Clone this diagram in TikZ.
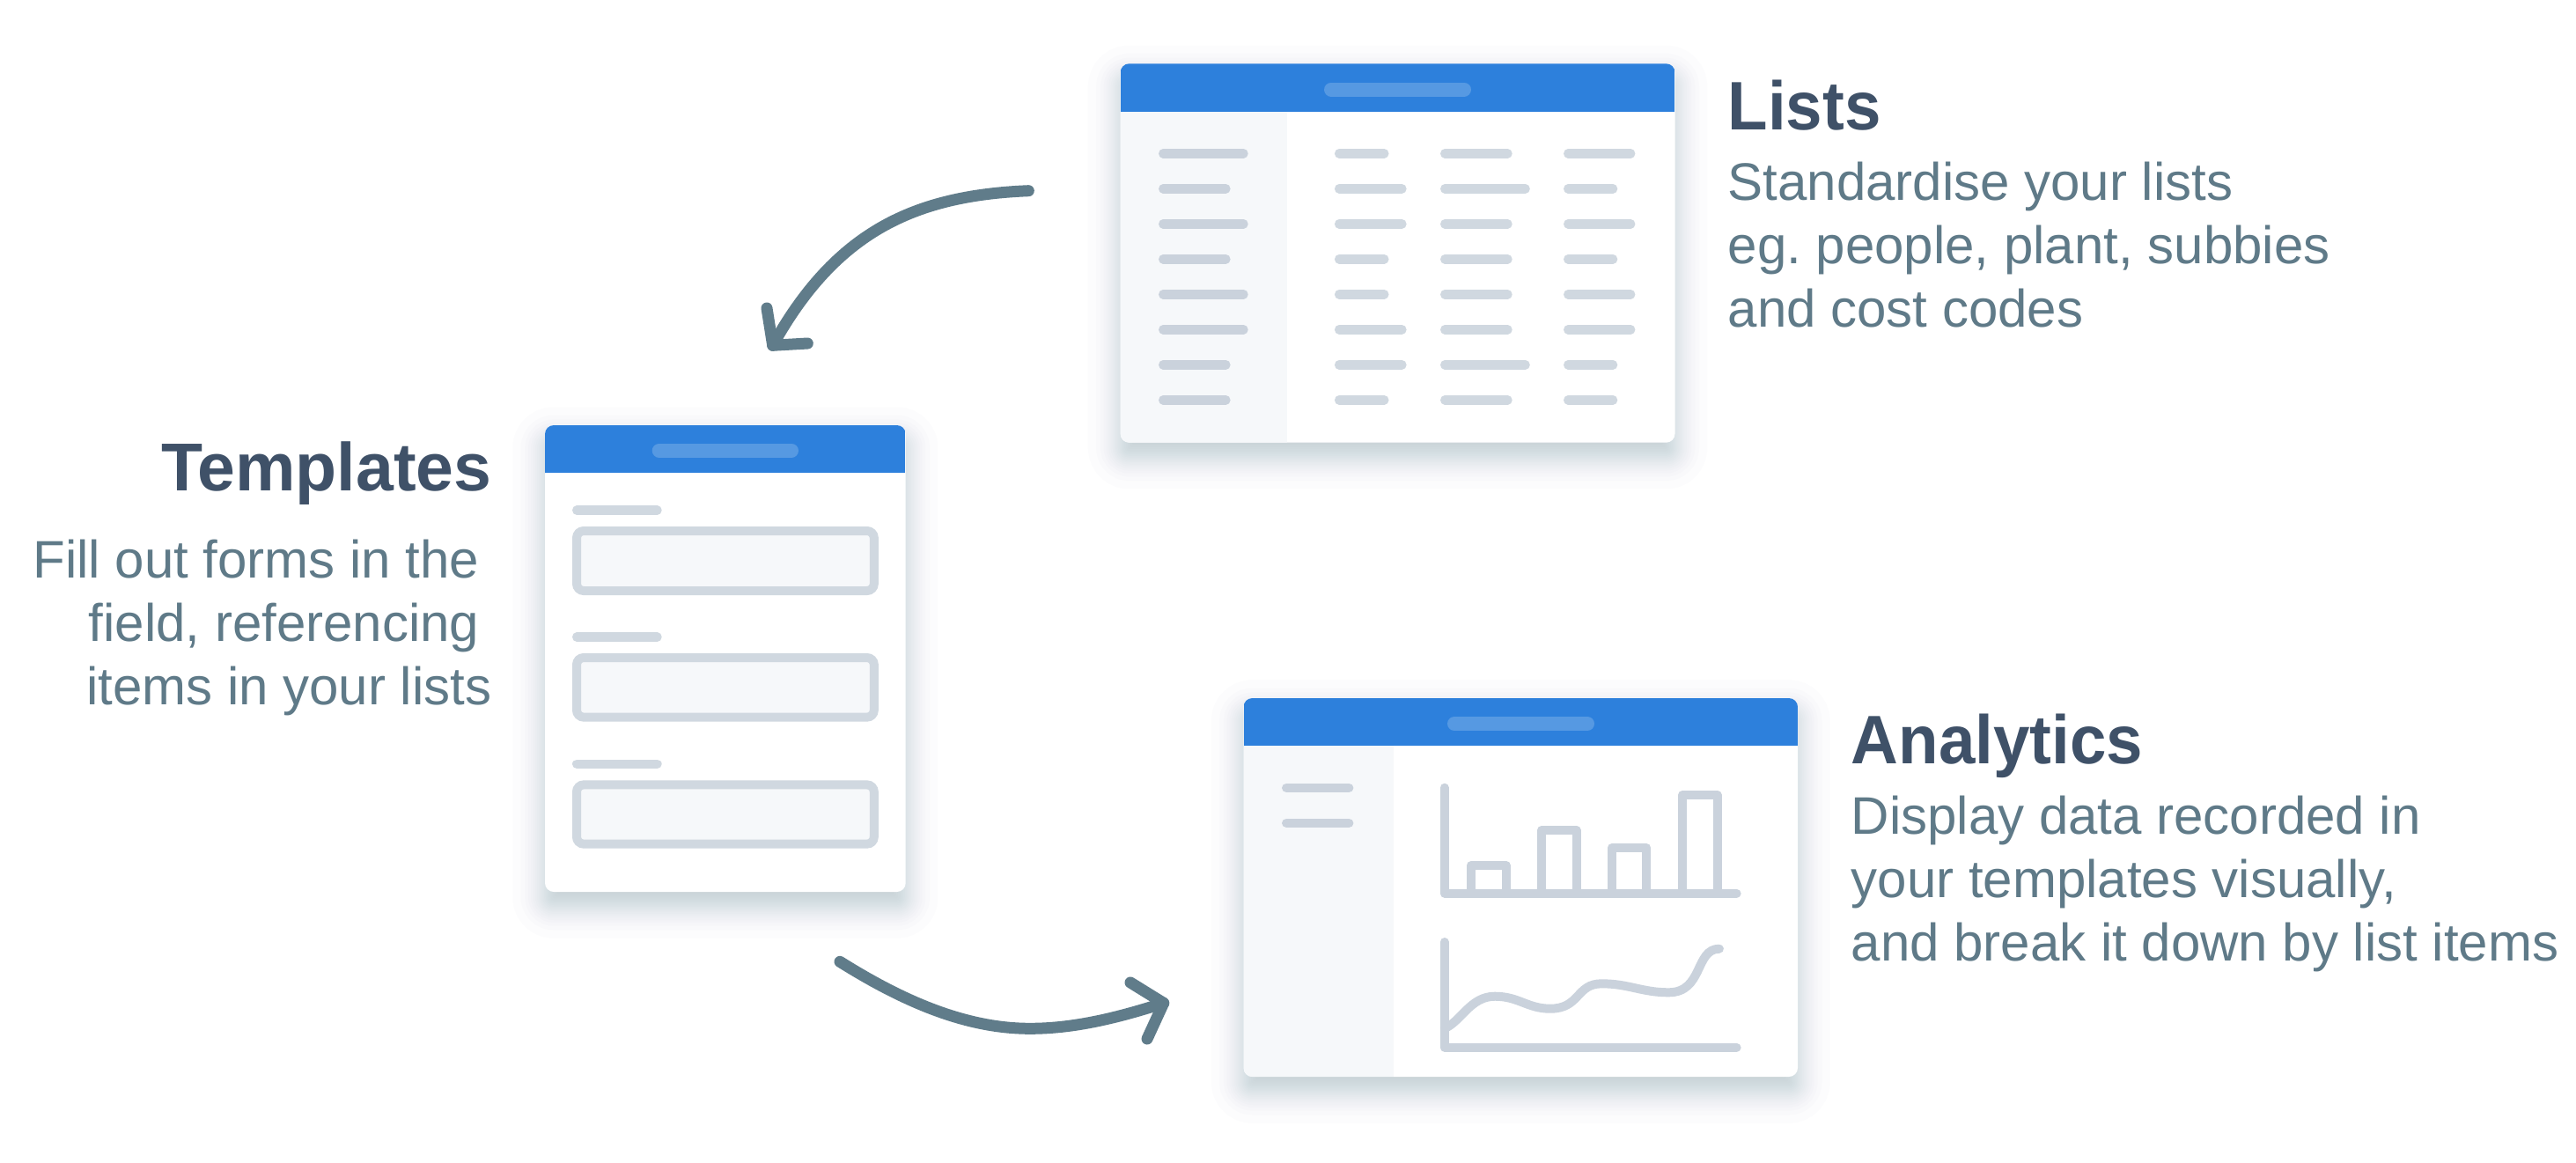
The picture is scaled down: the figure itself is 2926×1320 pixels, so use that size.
\documentclass[tikz,border=0pt]{standalone}
\usepackage{fontspec}
\setmainfont{Liberation Sans}
\newfontfamily\narrowbold[FakeStretch=0.955]{Liberation Sans Bold}
\frenchspacing
\definecolor{hdr}{HTML}{2D80DC}
\definecolor{hpill}{HTML}{5699E2}
\definecolor{side}{HTML}{F6F8FA}
\definecolor{pillA}{HTML}{CAD2DC}
\definecolor{pillB}{HTML}{D0D8E0}
\definecolor{arrowc}{HTML}{607C8A}
\definecolor{titlec}{HTML}{3F5168}
\definecolor{bodyc}{HTML}{5F7A88}
\definecolor{shadowc}{HTML}{587496}
\tikzset{
  x=1pt,y=-1pt,
  pill/.style={line width=10.4pt,line cap=round},
  chartline/.style={draw=pillA,line width=10pt,line cap=round,line join=round},
  flow/.style={draw=arrowc,line width=13pt,line cap=round,line join=round},
  heading/.style={inner sep=0pt,text=titlec,font=\fontsize{77}{77}\selectfont\bfseries},
  narrowheading/.style={inner sep=0pt,text=titlec,font=\fontsize{78}{78}\selectfont\narrowbold},
  blurb/.style={inner sep=0pt,text=bodyc,font=\fontsize{60}{72}\selectfont},
  fieldbox/.style={draw=pillB,fill=side,line width=10pt,rounded corners=8pt},
}
% card: x0 y0 x1 y1 headerbottom sidebarright
\newcommand{\cardbase}[6]{%
  \foreach \e in {36.7,27.5,22.6,18.9,16,13.4,10.9,8.8,6.7,4.8,2.8,0.9,-0.9,-2.8,-4.8,-6.7,-8.8,-10.9,-13.4,-16,-18.9,-22.6,-27.5,-36.7}{
    \pgfmathsetmacro{\rad}{max(10+\e,1)}
    \fill[shadowc,fill opacity=0.0147,rounded corners=\rad pt]
      ({#1-\e},{#2+16-\e}) rectangle ({#3+\e},{#4+16+\e});
  }
  \fill[white,rounded corners=10pt] (#1,#2) rectangle (#3,#4);
  \begin{scope}
    \clip[rounded corners=10pt] (#1,#2) rectangle (#3,#4);
    \fill[side] (#1,#5) rectangle (#6,#4);
    \fill[hdr] (#1,#2) rectangle (#3,#5);
  \end{scope}
}
\newcommand{\hpillbar}[3]{\draw[pill,draw=hpill,line width=16pt] ({#1+8},#3) -- ({#2-8},#3);}
\newcommand{\lpill}[4][pillB]{\draw[pill,draw=#1] ({#2+5.2},#4) -- ({#3-5.2},#4);}
\begin{document}
\begin{tikzpicture}
\useasboundingbox (0,0) rectangle (2926,1320);
\fill[white] (0,0) rectangle (2926,1320);

% ---------- Lists card
\cardbase{1272.6}{72.3}{1902.5}{502.7}{126.7}{1462}
\hpillbar{1504}{1671}{101.5}
\foreach \r/\a/\b/\c/\d in {
 174.3/1417.7/1577.5/1717.7/1857.4,
 214.3/1397.6/1597.6/1737.8/1837.3,
 254.3/1417.7/1597.6/1717.7/1857.4,
 294.3/1397.6/1577.5/1717.7/1837.3,
 334.3/1417.7/1577.5/1717.7/1857.4,
 374.3/1417.7/1597.6/1717.7/1857.4,
 414.3/1397.6/1597.6/1737.8/1837.3,
 454.3/1397.6/1577.5/1717.7/1837.3}{
  \lpill[pillA]{1316}{\a}{\r}
  \lpill{1515.9}{\b}{\r}
  \lpill{1636}{\c}{\r}
  \lpill{1776}{\d}{\r}
}

% ---------- Templates card
\cardbase{619}{483}{1028.7}{1013}{536.8}{619}
\hpillbar{740.7}{907}{511.7}
\foreach \l/\t/\b in {579.6/603/671,723.6/747/814.6,867.7/891.4/958.6}{
  \lpill{650}{751.7}{\l}
  \draw[fieldbox] (655,\t) rectangle (992.8,\b);
}

% ---------- Analytics card
\cardbase{1412.5}{793}{2042}{1223}{847}{1582.5}
\hpillbar{1644}{1811}{822}
\lpill[pillA]{1456}{1537.4}{894.8}
\lpill[pillA]{1456}{1537.4}{934.8}
\draw[chartline] (1640.6,894.7) -- (1640.6,1014.7) -- (1972.6,1014.7);
\draw[chartline] (1670.8,1014.7) -- (1670.8,983) -- (1710.7,983) -- (1710.7,1014.7);
\draw[chartline] (1751,1014.7) -- (1751,943) -- (1790.5,943) -- (1790.5,1014.7);
\draw[chartline] (1830.8,1014.7) -- (1830.8,963) -- (1870.3,963) -- (1870.3,1014.7);
\draw[chartline] (1911,1014.7) -- (1911,903) -- (1950.5,903) -- (1950.5,1014.7);
\draw[chartline] (1640.6,1070) -- (1640.6,1189.7) -- (1972.6,1189.7);
\draw[chartline] (1640.6,1168.3)
  .. controls (1660,1160) and (1670,1131.7) .. (1698,1131.7)
  .. controls (1725,1131.7) and (1735,1145.7) .. (1760.8,1145.7)
  .. controls (1795,1145.7) and (1790,1117.3) .. (1819.3,1117.3)
  .. controls (1850,1117.3) and (1865,1127.3) .. (1895.2,1127.3)
  .. controls (1935,1127.3) and (1925,1077.7) .. (1952.9,1077.7);

% ---------- Arrows
\coordinate (a1s) at (1168.3,216.7);
\coordinate (a1t) at (877.7,392.3);
\coordinate (a1l) at (871,350);
\coordinate (a1r) at (917.3,390);
\draw[flow] (a1s) .. controls (1040,222) and (950,262) .. (a1t);
\draw[flow] (a1l) -- (a1t) -- (a1r);
\coordinate (a2s) at (954,1092.3);
\coordinate (a2m) at (1170,1168.3);
\coordinate (a2t) at (1321.7,1139.3);
\coordinate (a2l) at (1284,1116);
\coordinate (a2r) at (1303,1180);
\draw[flow] (a2s) .. controls (1030,1140) and (1100,1168.3) .. (a2m) .. controls (1220,1168.3) and (1270,1156) .. (a2t);
\draw[flow] (a2l) -- (a2t) -- (a2r);

% ---------- Text (the base of a multi-line node is its last line)
\node[narrowheading,anchor=base west] (listsT) at (1962.5,147) {Lists};
\node[blurb,anchor=base west,align=left] (listsB) at (1962.5,371) {Standardise your lists\\eg. people, plant, subbies\\and cost codes};
\node[heading,anchor=base east] (tmplT) at (558.5,557) {Templates};
\node[blurb,anchor=base east,align=right] (tmplB) at (558.5,800.7) {\mbox{Fill out forms in the\hspace{14pt}}\\\mbox{field, referencing\hspace{14pt}}\\items in your lists};
\node[narrowheading,anchor=base west] (anT) at (2102.5,867) {Analytics};
\node[blurb,anchor=base west,align=left] (anB) at (2102.5,1091) {Display data recorded in\\your templates visually,\\and break it down by list items};
\end{tikzpicture}
\end{document}
